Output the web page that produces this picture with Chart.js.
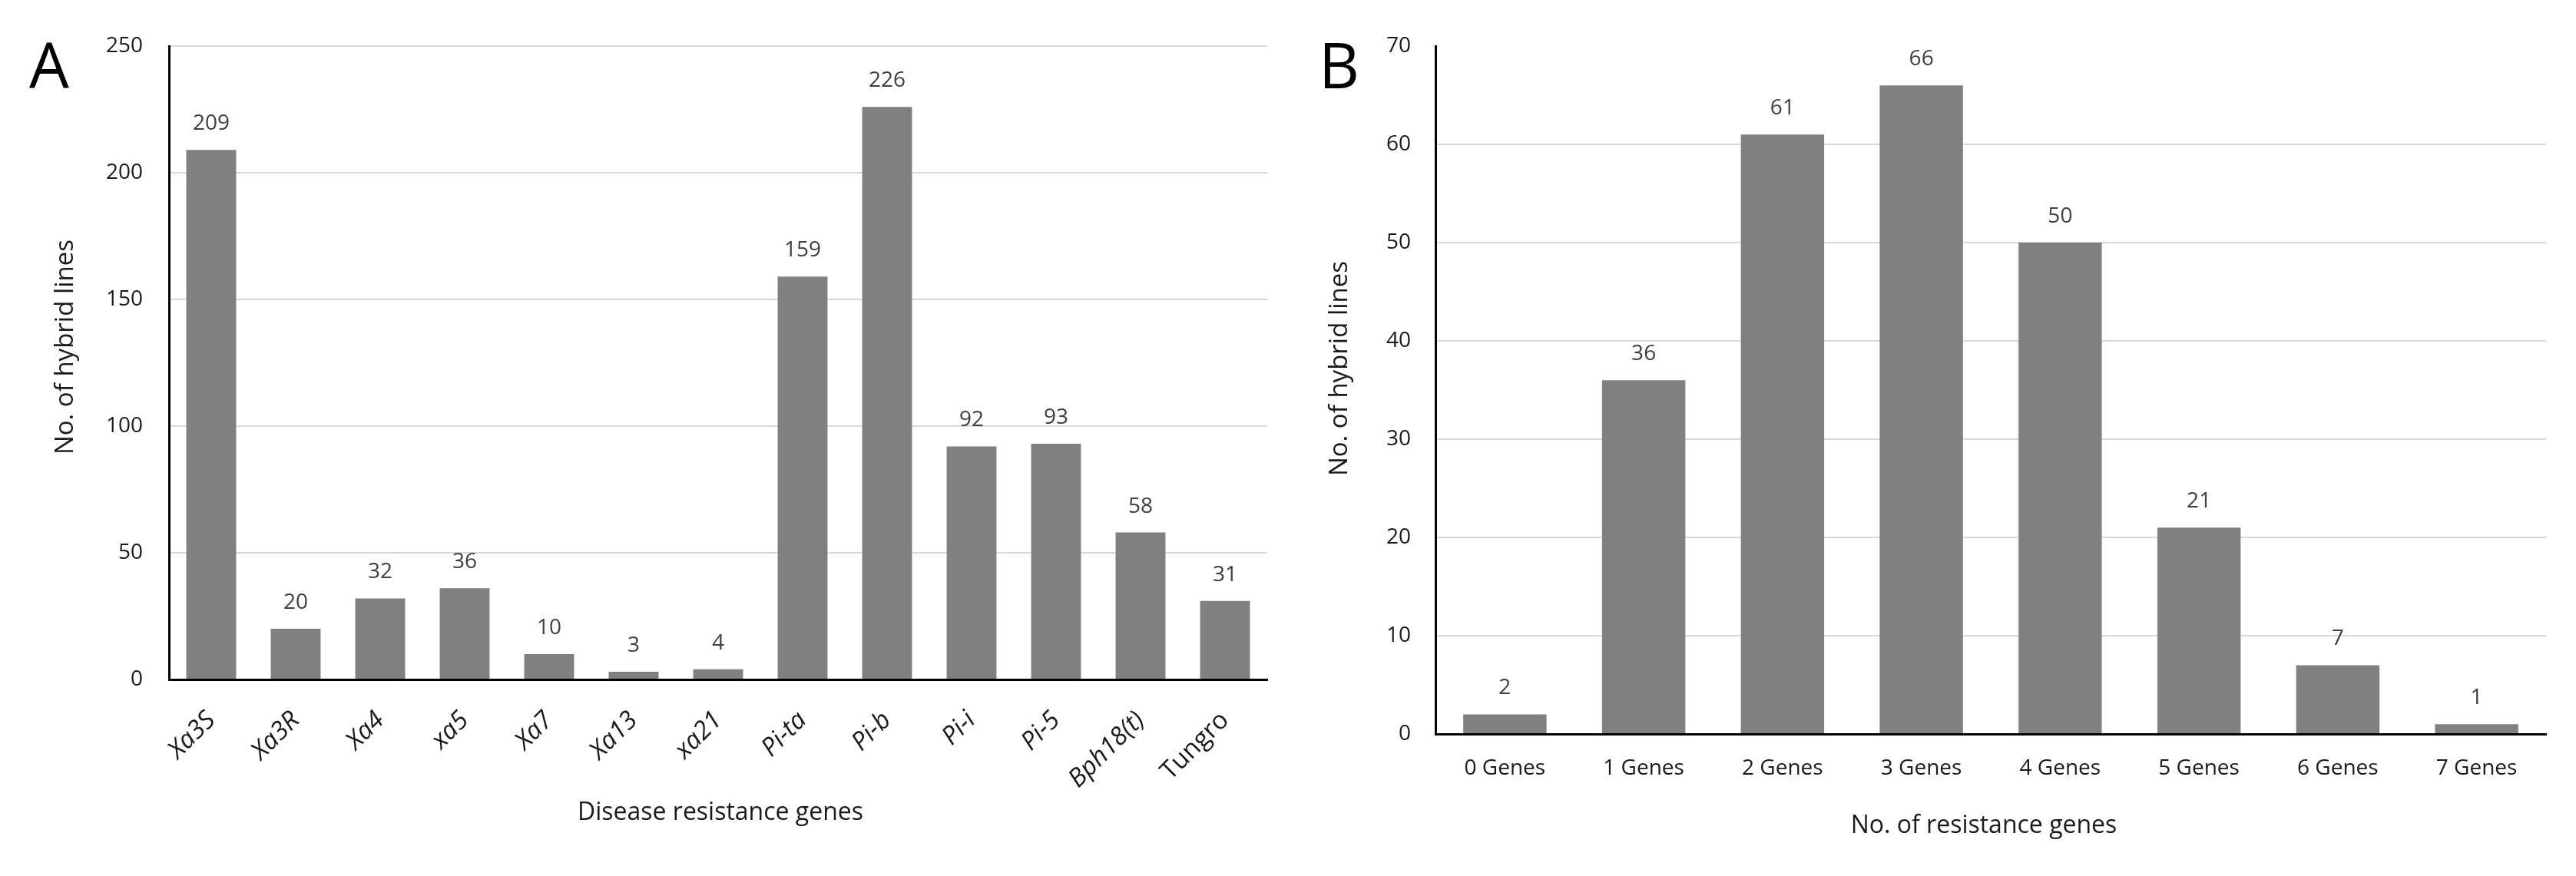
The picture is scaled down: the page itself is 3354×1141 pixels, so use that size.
<!DOCTYPE html>
<html><head><meta charset="utf-8">
<script src="https://cdn.jsdelivr.net/npm/chart.js@4.4.1/dist/chart.umd.min.js"></script>
<style>
html,body{margin:0;padding:0;background:#fff;}
#wrap{position:relative;width:3354px;height:1141px;overflow:hidden;background:#fff;}
canvas{position:absolute;top:0;}
</style></head><body>
<div id="wrap">
<canvas id="cA" width="1700" height="1141" style="left:0"></canvas>
<canvas id="cB" width="1674" height="1141" style="left:1680px"></canvas>
</div>
<script>
// ---- data ----
const genesA = ['Xa3S','Xa3R','Xa4','xa5','Xa7','Xa13','xa21','Pi-ta','Pi-b','Pi-i','Pi-5','Bph18(t)','Tungro'];
const linesA = [209,20,32,36,10,3,4,159,226,92,93,58,31];
const yTicksA = [0,50,100,150,200,250];

const genesB = ['0 Genes','1 Genes','2 Genes','3 Genes','4 Genes','5 Genes','6 Genes','7 Genes'];
const linesB = [2,36,61,66,50,21,7,1];
const yTicksB = [0,10,20,30,40,50,60,70];

const FONT = "'Open Sans', 'Noto Sans', sans-serif";
const BAR = '#808080';
const GRID = '#d9d9d9';

const valueLabels = {
  id: 'valueLabels',
  afterDatasetsDraw(chart, args, o) {
    const ctx = chart.ctx;
    const meta = chart.getDatasetMeta(0);
    const data = chart.data.datasets[0].data;
    ctx.save();
    ctx.font = o.size + 'px ' + FONT;
    ctx.fillStyle = '#404040';
    ctx.textAlign = 'center';
    ctx.textBaseline = 'alphabetic';
    meta.data.forEach((bar, i) => ctx.fillText(String(data[i]), bar.x, bar.y - o.gap));
    ctx.restore();
  }
};

const decor = {
  id: 'decor',
  afterDraw(chart, args, o) {
    const ctx = chart.ctx;
    ctx.save();
    ctx.fillStyle = '#000';
    ctx.textAlign = 'left';
    ctx.textBaseline = 'alphabetic';
    ctx.font = '82px ' + FONT;
    ctx.fillText(o.panel, o.panelX, o.panelY);
    ctx.fillStyle = '#1a1a1a';
    ctx.textAlign = 'center';
    ctx.textBaseline = 'middle';
    ctx.font = o.xSize + 'px ' + FONT;
    ctx.fillText(o.xTitle, o.xTitleX, o.xTitleY);
    ctx.translate(o.yTitleX, o.yTitleY);
    ctx.rotate(-Math.PI / 2);
    ctx.font = o.ySize + 'px ' + FONT;
    ctx.fillText(o.yTitle, 0, 0);
    ctx.restore();
  }
};

function makeChart(id, labels, values, ticks, cfg) {
  const maxV = ticks[ticks.length - 1];
  return new Chart(document.getElementById(id), {
    type: 'bar',
    data: { labels: labels, datasets: [{ data: values, backgroundColor: BAR, barPercentage: cfg.barPct, categoryPercentage: 1 }] },
    plugins: [valueLabels, decor],
    options: {
      responsive: false,
      animation: false,
      devicePixelRatio: 1,
      layout: { padding: { top: 60, right: cfg.padRight, bottom: 0, left: 0 } },
      plugins: {
        legend: { display: false },
        tooltip: { enabled: false },
        valueLabels: { size: 28, gap: 26 },
        decor: cfg.decor
      },
      scales: {
        x: {
          grid: { display: false, drawTicks: false },
          border: { display: true, color: '#000', width: 3 },
          afterFit: s => { s.height = cfg.xHeight; },
          ticks: {
            autoSkip: false,
            maxRotation: cfg.rot, minRotation: cfg.rot,
            padding: cfg.xPad,
            color: '#1a1a1a',
            font: c => ({ family: FONT, size: cfg.xSize, style: (cfg.italic && c.index !== labels.length - 1) ? 'italic' : 'normal' })
          }
        },
        y: {
          min: 0, max: maxV,
          afterFit: s => { s.width = cfg.yWidth; },
          afterBuildTicks: s => { s.ticks = ticks.map(v => ({ value: v })); },
          grid: {
            drawTicks: false,
            lineWidth: 2,
            color: c => (c.tick && c.tick.value === maxV && !cfg.topGrid) ? 'rgba(0,0,0,0)' : GRID
          },
          border: { display: true, color: '#000', width: 3 },
          ticks: { padding: cfg.yPad, color: '#1a1a1a', font: { family: FONT, size: 28 } }
        }
      }
    }
  });
}

makeChart('cA', genesA, linesA, yTicksA, {
  barPct: 0.59, padRight: 50, xHeight: 256, yWidth: 220, rot: 45, xPad: 34, xSize: 33, yPad: 34,
  italic: true, topGrid: true,
  decor: { panel: 'A', panelX: 38, panelY: 115, xTitle: 'Disease resistance genes', xTitleX: 938, xTitleY: 1059, xSize: 32,
           yTitle: 'No. of hybrid lines', yTitleX: 86, yTitleY: 452, ySize: 33 }
});

makeChart('cB', genesB, linesB, yTicksB, {
  barPct: 0.60, padRight: 39, xHeight: 185, yWidth: 189, rot: 0, xPad: 28, xSize: 28, yPad: 32,
  italic: false, topGrid: false,
  decor: { panel: 'B', panelX: 37, panelY: 115, xTitle: 'No. of resistance genes', xTitleX: 903, xTitleY: 1076, xSize: 32,
           yTitle: 'No. of hybrid lines', yTitleX: 65, yTitleY: 480, ySize: 33 }
});
</script>
</body></html>
